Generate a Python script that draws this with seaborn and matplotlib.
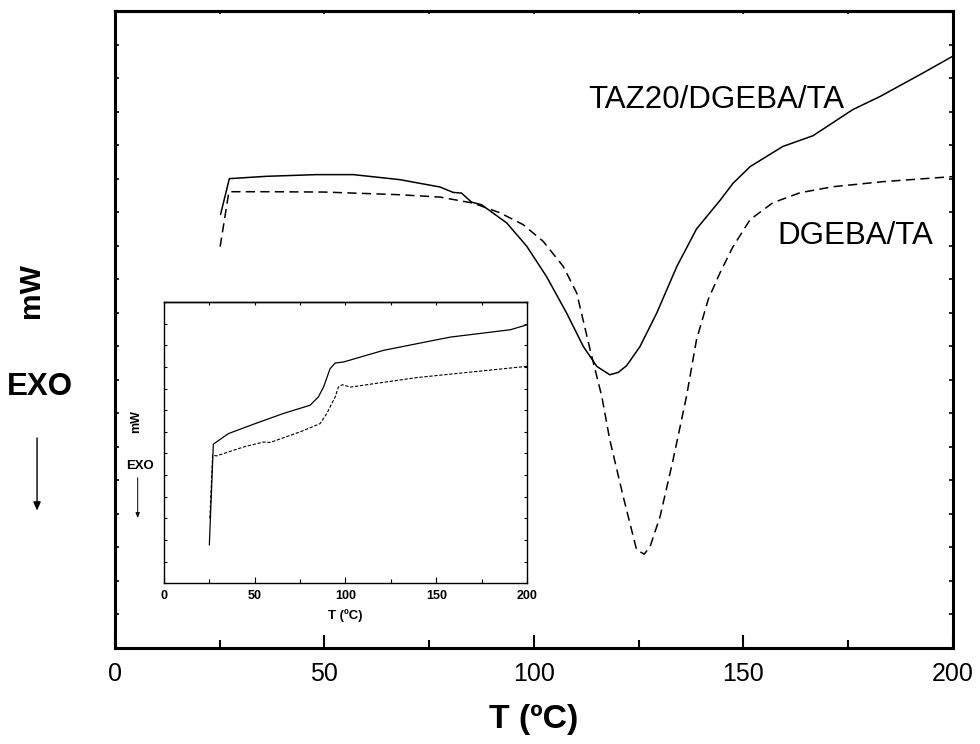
import numpy as np
import pandas as pd
import matplotlib
matplotlib.use("Agg")
import matplotlib.pyplot as plt
from matplotlib import font_manager as fm
import seaborn as sns

# ---------------- data ----------------
main_T_taz = [25.2, 27.3, 36.2, 48.1, 56.9, 68.0, 77.6, 80.7, 82.7, 85.1, 87.5, 93.5,
              98.3, 103.0, 107.8, 111.8, 115.0, 118.1, 120.1, 122.1, 125.3, 129.3,
              134.1, 138.8, 144.4, 147.5, 151.6, 159.4, 166.6, 176.1, 182.6, 192.1, 199.8]
main_y_taz = [12.93, 14.00, 14.07, 14.12, 14.12, 13.97, 13.75, 13.59, 13.57, 13.30, 13.22, 12.68,
              11.98, 11.08, 9.99, 8.99, 8.40, 8.15, 8.22, 8.42, 8.99, 9.99,
              11.38, 12.50, 13.35, 13.86, 14.36, 14.96, 15.28, 16.06, 16.45, 17.10, 17.64]

main_T_dg = [25.1, 27.2, 36.2, 50.0, 68.0, 77.6, 85.5, 91.9, 97.4, 102.2, 107.0, 110.2,
             113.4, 116.2, 118.1, 121.3, 124.5, 126.3, 127.7, 130.1, 133.2, 136.4,
             138.8, 141.6, 144.4, 147.5, 151.6, 157.0, 163.5, 171.4, 183.3, 199.8]
main_y_dg = [11.97, 13.61, 13.61, 13.60, 13.52, 13.45, 13.27, 12.98, 12.63, 12.13, 11.38, 10.59,
             8.90, 7.50, 6.21, 4.52, 2.93, 2.80, 3.02, 3.92, 5.61, 7.50,
             9.20, 10.40, 11.19, 11.97, 12.78, 13.28, 13.58, 13.76, 13.91, 14.06]

ins_T_taz = [25.0, 27.2, 35.5, 50.2, 65.8, 80.5, 85.0, 87.9, 91.5, 94.3, 98.9, 121.0, 157.7, 190.8, 200.0]
ins_y_taz = [1.77, 6.43, 6.92, 7.38, 7.85, 8.23, 8.61, 9.07, 9.92, 10.18, 10.23, 10.77, 11.38, 11.72, 11.95]
ins_T_dg = [25.3, 26.8, 29.0, 43.8, 54.8, 58.5, 75.0, 86.0, 89.7, 94.3, 96.1, 98.3, 102.6, 139.4, 200.0]
ins_y_dg = [3.00, 5.92, 5.89, 6.30, 6.53, 6.51, 7.00, 7.38, 7.85, 8.61, 9.07, 9.18, 9.07, 9.51, 10.03]

x_ticks = [0, 50, 100, 150, 200]
x_tick_labels = ["0", "50", "100", "150", "200"]
label_taz = "TAZ20/DGEBA/TA"
label_dg = "DGEBA/TA"
x_label = "T (ºC)"
y_label = "mW"
exo_label = "EXO"

# ---------------- style ----------------
sns.set_style("ticks")


def has_font(name):
    try:
        fm.findfont(fm.FontProperties(family=name), fallback_to_default=False)
        return True
    except Exception:
        return False


narrow = has_font("Liberation Sans Narrow")
FAM = ["Liberation Sans Narrow", "Liberation Sans", "DejaVu Sans"] if narrow else ["Liberation Sans", "DejaVu Sans"]
scale = 1.0 if narrow else 0.9
plt.rcParams["font.family"] = FAM
plt.rcParams["axes.linewidth"] = 2.2
for key in ["text.color", "axes.labelcolor", "axes.edgecolor", "xtick.color", "ytick.color"]:
    plt.rcParams[key] = "black"

fig = plt.figure(figsize=(9.8, 7.44), dpi=100)
fig.patch.set_facecolor("white")

# ---------------- main axes ----------------
ax = fig.add_axes([0.1173, 0.129, 0.8551, 0.8562])
df_taz = pd.DataFrame({"T": main_T_taz, "y": main_y_taz})
df_dg = pd.DataFrame({"T": main_T_dg, "y": main_y_dg})
sns.lineplot(data=df_taz, x="T", y="y", ax=ax, color="black", lw=1.1,
             estimator=None, sort=False)
sns.lineplot(data=df_dg, x="T", y="y", ax=ax, color="black", lw=1.1,
             linestyle=(0, (6, 3.5)), estimator=None, sort=False)
ax.set_xlim(0, 200)
ax.set_ylim(0, 19)
ax.set_xticks(x_ticks)
ax.set_xticklabels(x_tick_labels)
ax.set_xticks(np.arange(0, 201, 25), minor=True)
ax.set_yticks(np.arange(0, 20, 1))
ax.set_yticklabels([])
ax.tick_params(axis="x", which="major", direction="in", length=9.5, width=1.5,
               labelsize=20 * scale, pad=10)
ax.tick_params(axis="x", which="minor", direction="in", length=6, width=1.5)
ax.tick_params(axis="y", which="major", direction="in", length=3, width=1.2,
               left=True, right=True)
top = ax.secondary_xaxis("top")
top.set_xticks(np.arange(0, 201, 25))
top.set_xticklabels([])
top.tick_params(direction="in", length=2, width=1.2)
for s in top.spines.values():
    s.set_linewidth(2.2)
ax.set_xlabel(x_label, fontsize=27 * scale, fontweight="bold", labelpad=13)
ax.set_ylabel("")
for s in ax.spines.values():
    s.set_linewidth(2.2)

ax.text(112.9, 16.36, label_taz, fontsize=25 * scale, ha="left", va="center")
ax.text(158.0, 12.30, label_dg, fontsize=25 * scale, ha="left", va="center")

# outer y label and EXO arrow
fig.text(0.0316, 0.609, y_label, rotation=90, fontsize=24 * scale, fontweight="bold",
         ha="center", va="center")
fig.text(0.0408, 0.480, exo_label, fontsize=25 * scale, fontweight="bold",
         ha="center", va="center")
fig.add_artist(matplotlib.patches.FancyArrowPatch(
    (0.0378, 0.415), (0.0378, 0.310), transform=fig.transFigure,
    arrowstyle="-|>,head_length=5,head_width=2.2", color="black", lw=1.0))

# ---------------- inset axes ----------------
ins = fig.add_axes([0.1673, 0.216, 0.3705, 0.378])
ins.set_facecolor("white")
di_taz = pd.DataFrame({"T": ins_T_taz, "y": ins_y_taz})
di_dg = pd.DataFrame({"T": ins_T_dg, "y": ins_y_dg})
sns.lineplot(data=di_taz, x="T", y="y", ax=ins, color="black", lw=0.9,
             estimator=None, sort=False)
sns.lineplot(data=di_dg, x="T", y="y", ax=ins, color="black", lw=0.8,
             linestyle=(0, (3, 1.5)), estimator=None, sort=False)
ins.set_xlim(0, 200)
ins.set_ylim(0, 13)
ins.set_xticks(x_ticks)
ins.set_xticklabels(x_tick_labels)
ins.set_xticks(np.arange(0, 201, 25), minor=True)
ins.set_yticks(np.arange(0, 14, 1))
ins.set_yticklabels([])
for s in ins.spines.values():
    s.set_linewidth(1.0)
ins.tick_params(axis="x", which="major", direction="in", length=4, width=0.8,
                labelsize=10 * scale, pad=5)
for lab in ins.get_xticklabels():
    lab.set_fontweight("bold")
ins.tick_params(axis="x", which="minor", direction="in", length=3, width=0.8)
ins.tick_params(axis="y", which="major", direction="in", length=2.5, width=0.8,
                left=True, right=True)
itop = ins.secondary_xaxis("top")
itop.set_xticks(np.arange(0, 201, 25))
itop.set_xticklabels([])
itop.tick_params(direction="in", length=2, width=0.8)
for s in itop.spines.values():
    s.set_linewidth(1.0)
ins.set_xlabel(x_label, fontsize=10.5 * scale, fontweight="bold", labelpad=5)
ins.set_ylabel("")

fig.text(0.1388, 0.4328, y_label, rotation=90, fontsize=10 * scale, fontweight="bold",
         ha="center", va="center")
fig.text(0.1429, 0.3737, exo_label, fontsize=10.5 * scale, fontweight="bold",
         ha="center", va="center")
fig.add_artist(matplotlib.patches.FancyArrowPatch(
    (0.1405, 0.3616), (0.1405, 0.300), transform=fig.transFigure,
    arrowstyle="-|>,head_length=3,head_width=1.2", color="black", lw=0.7))

fig.savefig("out.png", dpi=100, facecolor="white")
